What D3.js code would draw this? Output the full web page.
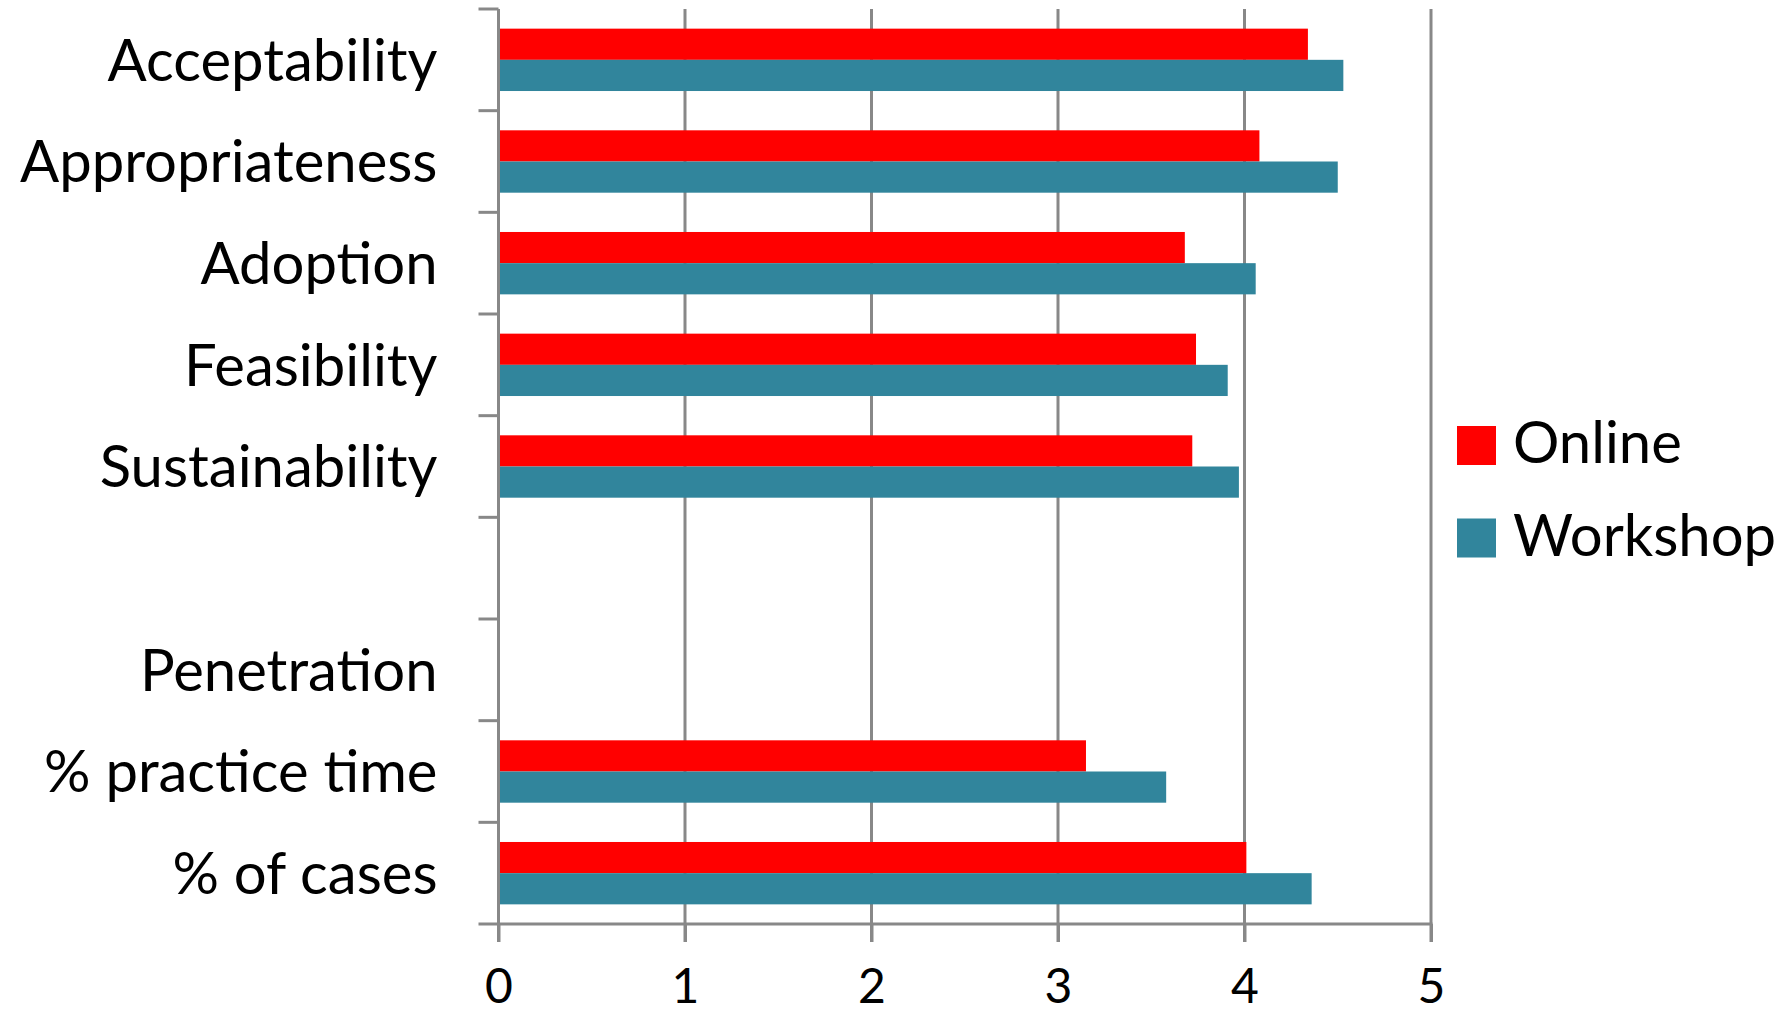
<!DOCTYPE html>
<html>
<head>
<meta charset="utf-8">
<script src="https://cdn.jsdelivr.net/npm/d3@7"></script>
<style>
  html, body { margin: 0; padding: 0; background: #fff; }
  svg { display: block; }
</style>
</head>
<body>
<script>
// ---- data ----
const categories = ["Acceptability", "Appropriateness", "Adoption", "Feasibility", "Sustainability", " ", "Penetration", "% practice time", "% of cases"];
const seriesNames = ["Online", "Workshop"];
const onlineValues   = [4.34, 4.08, 3.68, 3.74, 3.72, null, null, 3.15, 4.01];
const workshopValues = [4.53, 4.50, 4.06, 3.91, 3.97, null, null, 3.58, 4.36];
const xTicks = [0, 1, 2, 3, 4, 5];
const colors = { Online: "#FF0000", Workshop: "#31859C" };

// ---- layout ----
const W = 1789, H = 1013;
const plot = { left: 498.5, right: 1431, top: 9, bottom: 924 };
const gridColor = "#888888";
const font = "Lato, 'Open Sans', sans-serif";

const svg = d3.select("body").append("svg").attr("width", W).attr("height", H);
svg.append("rect").attr("width", W).attr("height", H).attr("fill", "#fff");

const x = d3.scaleLinear().domain([0, 5]).range([plot.left, plot.right]);
const y = d3.scaleBand().domain(categories).range([plot.top, plot.bottom]).paddingInner(0).paddingOuter(0);
const ySub = d3.scaleBand().domain(seriesNames).range([0, y.bandwidth()]).paddingInner(0).paddingOuter(0.63);

const rows = categories.map((c, i) => ({ cat: c, Online: onlineValues[i], Workshop: workshopValues[i] }));

// gridlines (extend below axis as tick marks)
svg.append("g")
  .selectAll("line")
  .data(xTicks.slice(1))
  .join("line")
  .attr("x1", d => x(d)).attr("x2", d => x(d))
  .attr("y1", plot.top).attr("y2", plot.bottom + 18)
  .attr("stroke", gridColor).attr("stroke-width", 3);

// bars
const gRows = svg.append("g").selectAll("g")
  .data(rows).join("g")
  .attr("transform", d => `translate(0,${y(d.cat)})`);
gRows.selectAll("rect")
  .data(d => seriesNames.filter(s => d[s] != null).map(s => ({ s, v: d[s] })))
  .join("rect")
  .attr("x", x(0))
  .attr("y", d => ySub(d.s))
  .attr("width", d => x(d.v) - x(0))
  .attr("height", ySub.bandwidth())
  .attr("fill", d => colors[d.s]);

// x axis
const xAxis = svg.append("g")
  .attr("transform", `translate(0,${plot.bottom})`)
  .call(d3.axisBottom(x).tickValues(xTicks).tickFormat(d3.format("d")).tickSize(18).tickSizeOuter(0).tickPadding(27));
xAxis.select(".domain").remove();
xAxis.selectAll(".tick line").attr("stroke", gridColor).attr("stroke-width", 3);
xAxis.selectAll(".tick text").attr("font-family", font).attr("font-size", 48).attr("fill", "#000");
svg.append("line")
  .attr("x1", plot.left - 20).attr("x2", plot.right + 1.5)
  .attr("y1", plot.bottom).attr("y2", plot.bottom)
  .attr("stroke", gridColor).attr("stroke-width", 3);

// y axis
const yAxis = svg.append("g")
  .attr("transform", `translate(${plot.left},0)`)
  .call(d3.axisLeft(y).tickSize(0).tickPadding(61));
yAxis.select(".domain").remove();
yAxis.selectAll(".tick text")
  .attr("font-family", font).attr("font-size", 58).attr("fill", "#000").attr("dy", "0.36em");
svg.append("line")
  .attr("x1", plot.left).attr("x2", plot.left)
  .attr("y1", plot.top).attr("y2", plot.bottom + 18)
  .attr("stroke", gridColor).attr("stroke-width", 3);
// boundary ticks between categories
const boundaries = categories.map(c => y(c));
svg.append("g").selectAll("line")
  .data(boundaries).join("line")
  .attr("x1", plot.left - 20).attr("x2", plot.left)
  .attr("y1", d => d).attr("y2", d => d)
  .attr("stroke", gridColor).attr("stroke-width", 3);

// legend
const legend = svg.append("g").attr("transform", "translate(1457,426)");
const li = legend.selectAll("g").data(seriesNames).join("g")
  .attr("transform", (d, i) => `translate(0,${i * 92.5})`);
li.append("rect").attr("width", 39).attr("height", 39).attr("fill", d => colors[d]);
li.append("text").attr("x", 56).attr("y", 37)
  .attr("font-family", font).attr("font-size", 58).attr("fill", "#000")
  .text(d => d);
</script>
</body>
</html>
